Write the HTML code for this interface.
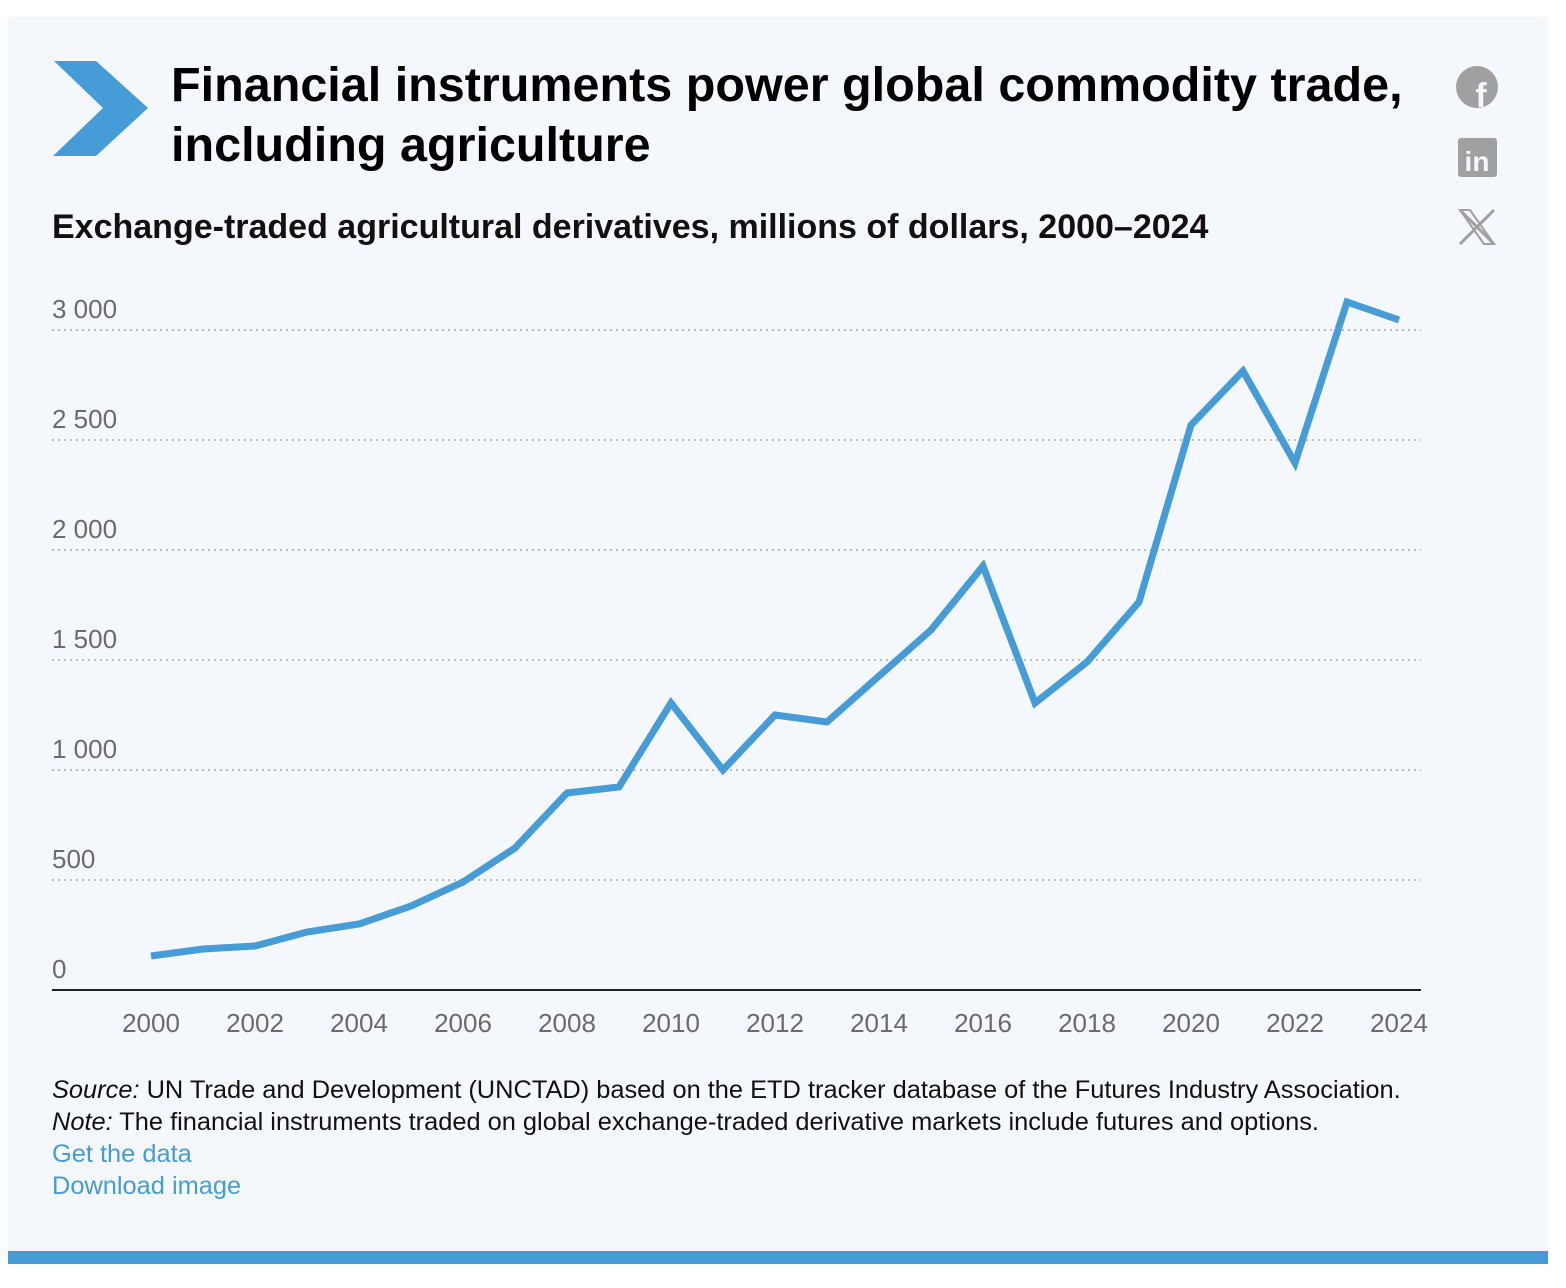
<!DOCTYPE html>
<html><head><meta charset="utf-8"><style>
body{margin:0;background:#fff;width:1566px;height:1288px;position:relative;font-family:"Liberation Sans",sans-serif;overflow:hidden}
.panel{position:absolute;left:8px;top:17px;width:1540px;height:1234px;background:#f4f7fc}
.bar{position:absolute;left:8px;top:1251px;width:1540px;height:13px;background:#469cd6}
.t{position:absolute;white-space:nowrap}
</style></head><body>
<div class="panel"></div><div class="bar"></div>
<svg style="position:absolute;left:0;top:0" width="1566" height="1288">
<polygon points="54,61 96,61 148,108 96,156 53,156 103,108" fill="#469cd6"/>
<circle cx="1477" cy="87" r="21" fill="#a0a0a0"/>
<text x="1481" y="107" font-family="Liberation Sans" font-weight="bold" font-size="34" fill="#f4f7fc" text-anchor="middle">f</text>
<rect x="1458" y="138" width="39" height="39" rx="3" fill="#a0a0a0"/>
<text x="1477" y="171" font-family="Liberation Sans" font-weight="bold" font-size="28" fill="#f4f7fc" text-anchor="middle">in</text>
<path d="M1460 210 L1494 244 M1494 210 L1460 244" stroke="#a0a0a0" stroke-width="3"/>
<path d="M1460 210 L1470 210 L1494 244 L1484 244 Z" fill="none" stroke="#a0a0a0" stroke-width="2"/>
<g stroke="#aaa" stroke-width="1.5" stroke-dasharray="2,4">
<line x1="52" y1="330" x2="1421" y2="330"/><line x1="52" y1="440" x2="1421" y2="440"/><line x1="52" y1="550" x2="1421" y2="550"/><line x1="52" y1="660" x2="1421" y2="660"/><line x1="52" y1="770" x2="1421" y2="770"/><line x1="52" y1="880" x2="1421" y2="880"/>
</g>
<line x1="52" y1="990" x2="1421" y2="990" stroke="#222" stroke-width="2"/>
<g font-family="Liberation Sans" font-size="26" fill="#6b6b6b">
<text x="52" y="318">3 000</text><text x="52" y="428">2 500</text><text x="52" y="538">2 000</text><text x="52" y="648">1 500</text><text x="52" y="758">1 000</text><text x="52" y="868">500</text><text x="52" y="978">0</text>
<g text-anchor="middle">
<text x="151" y="1032">2000</text><text x="255" y="1032">2002</text><text x="359" y="1032">2004</text><text x="463" y="1032">2006</text><text x="567" y="1032">2008</text><text x="671" y="1032">2010</text><text x="775" y="1032">2012</text><text x="879" y="1032">2014</text><text x="983" y="1032">2016</text><text x="1087" y="1032">2018</text><text x="1191" y="1032">2020</text><text x="1295" y="1032">2022</text><text x="1399" y="1032">2024</text>
</g></g>
<polyline fill="none" stroke="#469cd6" stroke-width="7" stroke-linejoin="miter" stroke-linecap="butt" points="151,956 203,949 255,946 307,932 359,924 411,906 463,882 515,848 567,793 619,787 671,703 723,770 775,715 827,722 879,676 931,630 983,566 1035,703 1087,662 1139,602 1191,425 1243,371 1295,463 1347,302 1399,320"/>
</svg>
<div class="t" style="left:171px;top:55px;font-size:48.5px;font-weight:bold;line-height:60px;color:#000">Financial instruments power global commodity trade,<br>including agriculture</div>
<div class="t" style="left:52px;top:208px;font-size:34px;font-weight:bold;color:#111">Exchange-traded agricultural derivatives, millions of dollars, 2000–2024</div>
<div class="t" style="left:52px;top:1074px;font-size:25.4px;line-height:32px;color:#111"><i>Source:</i> UN Trade and Development (UNCTAD) based on the ETD tracker database of the Futures Industry Association.<br><i>Note:</i> The financial instruments traded on global exchange-traded derivative markets include futures and options.<br><span style="color:#469cd6">Get the data</span><br><span style="color:#469cd6">Download image</span></div>
</body></html>
